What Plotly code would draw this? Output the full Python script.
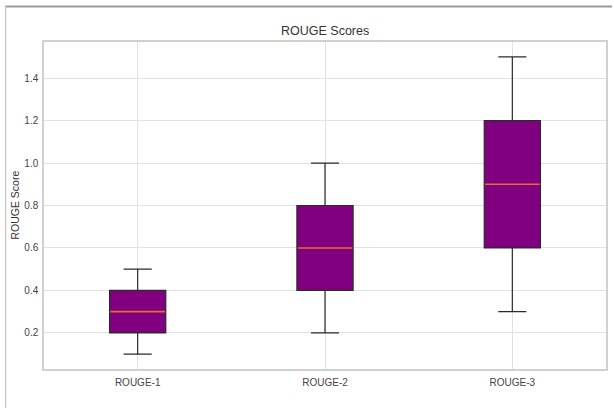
import plotly.graph_objects as go

# ROUGE score distributions (five-number summaries)
metrics = ["ROUGE-1", "ROUGE-2", "ROUGE-3"]
positions = [1, 2, 3]
lower_whisker = [0.1, 0.2, 0.3]
q1 = [0.2, 0.4, 0.6]
median = [0.3, 0.6, 0.9]
q3 = [0.4, 0.8, 1.2]
upper_whisker = [0.5, 1.0, 1.5]
y_ticks = [0.2, 0.4, 0.6, 0.8, 1.0, 1.2, 1.4]

BOX_WIDTH = 0.3
FONT = "Liberation Sans"

fig = go.Figure()
fig.add_trace(go.Box(
    x=positions,
    q1=q1,
    median=median,
    q3=q3,
    lowerfence=lower_whisker,
    upperfence=upper_whisker,
    width=BOX_WIDTH,
    whiskerwidth=0.5,
    fillcolor="#800080",
    line=dict(color="#2b2b2b", width=1.2),
    boxpoints=False,
    hoverinfo="skip",
    showlegend=False,
))

# orange median bars drawn over each box
for p, m in zip(positions, median):
    fig.add_shape(type="line", xref="x", yref="y",
                  x0=p - BOX_WIDTH / 2 + 0.004, x1=p + BOX_WIDTH / 2 - 0.004,
                  y0=m, y1=m, line=dict(color="#f0683a", width=1.6), layer="above")

# outer window frame (top and left edges)
W, H = 614, 408
L, R, T, B = 44, 6, 42, 39
pw, ph = W - L - R, H - T - B
def px(x):
    return (x - L) / pw
def py(y):
    return (H - B - y) / ph
fig.add_shape(type="line", xref="paper", yref="paper",
              x0=px(5), x1=px(614), y0=py(6.5), y1=py(6.5),
              line=dict(color="#9a9a9a", width=2))
fig.add_shape(type="line", xref="paper", yref="paper",
              x0=px(5.5), x1=px(5.5), y0=py(6.5), y1=py(408),
              line=dict(color="#c4c4c4", width=1.2))

fig.add_annotation(text="ROUGE Scores", xref="paper", yref="paper",
                   x=0.5, y=py(31), xanchor="center", yanchor="middle",
                   showarrow=False, font=dict(family=FONT, size=12.5, color="#333333"))
fig.add_annotation(text="ROUGE Score", xref="paper", yref="paper",
                   x=px(14), y=0.5, xanchor="center", yanchor="middle", textangle=-90,
                   showarrow=False, font=dict(family=FONT, size=10.5, color="#333333"))

fig.update_layout(
    width=W, height=H,
    margin=dict(l=L, r=R, t=T, b=B),
    paper_bgcolor="white",
    plot_bgcolor="white",
    font=dict(family=FONT, size=10, color="#444444"),
    xaxis=dict(
        range=[0.5, 3.5],
        tickmode="array", tickvals=positions, ticktext=metrics,
        showgrid=True, gridcolor="#e2e2e2", gridwidth=1,
        zeroline=False,
        showline=True, linecolor="#d0d0d0", linewidth=1.5, mirror=True,
        ticks="outside", ticklen=3, tickcolor="rgba(0,0,0,0)",
    ),
    yaxis=dict(
        range=[0.03, 1.57],
        tickmode="array", tickvals=y_ticks,
        ticktext=[f"{v:.1f}" for v in y_ticks],
        showgrid=True, gridcolor="#e2e2e2", gridwidth=1,
        zeroline=False,
        showline=True, linecolor="#d0d0d0", linewidth=1.5, mirror=True,
        ticks="outside", ticklen=2, tickcolor="rgba(0,0,0,0)",
    ),
)

fig.write_html("out.html")
